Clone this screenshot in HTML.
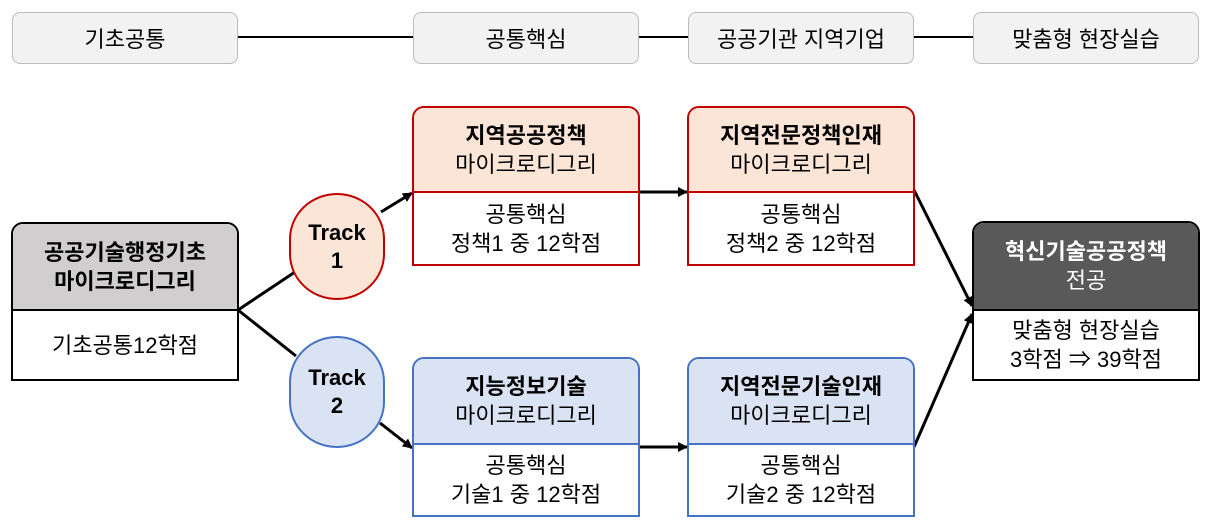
<!DOCTYPE html>
<html><head><meta charset="utf-8"><style>
body{margin:0;width:1211px;height:526px;background:#fff;position:relative;overflow:hidden;font-family:"Liberation Sans","Noto Sans CJK KR",sans-serif;color:#000}
.p{position:absolute;width:224px;height:50px;border:1px solid #bbb;border-radius:8px;background:#f2f2f2;display:flex;align-items:center;justify-content:center;font-size:22px}
.b{position:absolute;width:228px;box-sizing:border-box;border:2px solid #000;font-size:22px;text-align:center;line-height:29px}
.h{box-sizing:border-box;border-bottom:2px solid #000;display:flex;flex-direction:column;justify-content:center;border-radius:10px 10px 0 0}
.bd{display:flex;flex-direction:column;justify-content:center}
.t{position:absolute;box-sizing:border-box;border-radius:48px/46px;font-weight:bold;font-size:22px;display:flex;flex-direction:column;align-items:center;justify-content:center;line-height:28px}
b{font-weight:bold}
</style></head><body>
<svg width="1211" height="526" style="position:absolute;left:0;top:0">
<defs><marker id="a" markerWidth="10" markerHeight="10" refX="9" refY="5" orient="auto" markerUnits="userSpaceOnUse"><path d="M0,0L10,5L0,10z"/></marker></defs>
<g stroke="#000" stroke-width="2">
<line x1="238" y1="37" x2="413" y2="37"/><line x1="639" y1="37" x2="688" y2="37"/><line x1="914" y1="37" x2="973" y2="37"/>
</g>
<g stroke="#000" stroke-width="3" fill="none">
<line x1="238" y1="310" x2="295" y2="272"/><line x1="238" y1="310" x2="296" y2="356"/>
<line x1="381" y1="212" x2="412" y2="193" marker-end="url(#a)"/>
<line x1="380" y1="423" x2="412" y2="448" marker-end="url(#a)"/>
<line x1="639" y1="192" x2="687" y2="192" marker-end="url(#a)"/>
<line x1="639" y1="447" x2="687" y2="447" marker-end="url(#a)"/>
<line x1="914" y1="190" x2="972" y2="306" marker-end="url(#a)"/>
<line x1="914" y1="447" x2="972" y2="314" marker-end="url(#a)"/>
</g></svg>
<div class="p" style="left:12px;top:12px">기초공통</div>
<div class="p" style="left:413px;top:12px">공통핵심</div>
<div class="p" style="left:688px;top:12px">공공기관 지역기업</div>
<div class="p" style="left:973px;top:12px">맞춤형 현장실습</div>

<div class="b" style="left:11px;top:222px;height:159px;border-radius:12px 12px 0 0">
<div class="h" style="height:87px;background:#d0cece"><b>공공기술행정기초</b><b>마이크로디그리</b></div>
<div class="bd" style="height:68px">기초공통12학점</div></div>

<div class="t" style="left:289px;top:193px;width:96px;height:107px;background:#fbe5d6;border:2px solid #c00000"><span>Track</span><span>1</span></div>
<div class="t" style="left:289px;top:336px;width:96px;height:112px;background:#dae3f3;border:2px solid #4472c4"><span>Track</span><span>2</span></div>

<div class="b" style="left:412px;top:106px;height:160px;border-color:#c00000;border-radius:12px 12px 0 0">
<div class="h" style="height:85px;background:#fbe5d6;border-color:#c00000"><b>지역공공정책</b><span>마이크로디그리</span></div>
<div class="bd" style="height:71px">공통핵심<br>정책1 중 12학점</div></div>
<div class="b" style="left:687px;top:106px;height:160px;border-color:#c00000;border-radius:12px 12px 0 0">
<div class="h" style="height:85px;background:#fbe5d6;border-color:#c00000"><b>지역전문정책인재</b><span>마이크로디그리</span></div>
<div class="bd" style="height:71px">공통핵심<br>정책2 중 12학점</div></div>

<div class="b" style="left:412px;top:357px;height:160px;border-color:#4472c4;border-radius:12px 12px 0 0">
<div class="h" style="height:86px;background:#dae3f3;border-color:#4472c4"><b>지능정보기술</b><span>마이크로디그리</span></div>
<div class="bd" style="height:70px">공통핵심<br>기술1 중 12학점</div></div>
<div class="b" style="left:687px;top:357px;height:160px;border-color:#4472c4;border-radius:12px 12px 0 0">
<div class="h" style="height:86px;background:#dae3f3;border-color:#4472c4"><b>지역전문기술인재</b><span>마이크로디그리</span></div>
<div class="bd" style="height:70px">공통핵심<br>기술2 중 12학점</div></div>

<div class="b" style="left:972px;top:221px;height:160px;border-radius:12px 12px 0 0">
<div class="h" style="height:88px;background:#595959;color:#fff"><b>혁신기술공공정책</b><span>전공</span></div>
<div class="bd" style="height:68px">맞춤형 현장실습<br>3학점 ⇒ 39학점</div></div>
</body></html>
